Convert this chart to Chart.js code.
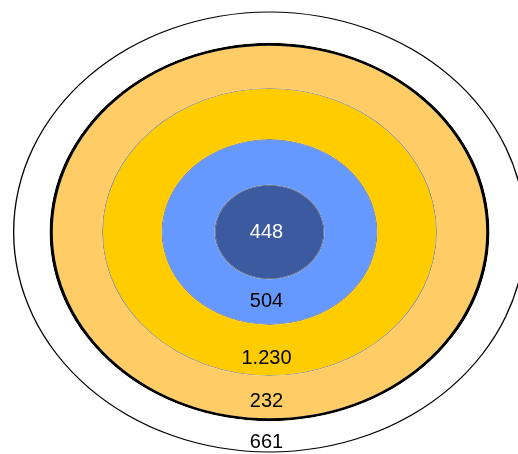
<!DOCTYPE html>
<html>
<head>
<meta charset="utf-8">
<script src="https://cdn.jsdelivr.net/npm/chart.js@4/dist/chart.umd.min.js"></script>
<style>
  html, body { margin: 0; padding: 0; background: #ffffff; overflow: hidden; }
  #wrap { position: relative; width: 518px; height: 454px; }
</style>
</head>
<body>
<div id="wrap"><canvas id="chart" width="518" height="454"></canvas></div>
<script>
// Nested groups, from the outermost ring to the core
const groups = ['Gesamt', 'Stufe 2', 'Stufe 3', 'Stufe 4', 'Kern'];
const values = [661, 232, 1230, 504, 448];

// Styling per ring (outermost first)
const fillColors = ['#FFFFFF', '#FFCC66', '#FFCC00', '#6699FF', '#3B5AA0'];
const textColors = ['#000000', '#000000', '#000000', '#000000', '#FFFFFF'];
const ringWidths = [35.2, 49.2, 58.5, 52, 54];          // ring thickness in px (horizontal)
const edgeWidths = [1.3, 3.3, 1, 1, 1];                   // outline drawn at the outer edge of each ring
const edgeColors = ['#000000', '#000000', 'rgba(70,60,30,0.6)', 'rgba(40,50,80,0.6)', 'rgba(30,40,70,0.7)'];
const labelPos = [0.69, 0.6, 0.665, 0.5, 0];              // label position across the lower part of each ring
const OUTER_RADIUS = 256.5;
const Y_RATIO = 0.86;       // vertical squash that turns the rings into ellipses

const fmt = v => String(v).replace(/\B(?=(\d{3})+(?!\d))/g, '.');

// Each ring is preceded by a thin outline ring
const datasets = [];
values.forEach((v, i) => {
  datasets.push({
    label: groups[i] + ' Rand',
    data: [1],
    backgroundColor: edgeColors[i],
    weight: edgeWidths[i],
    isEdge: true
  });
  datasets.push({
    label: groups[i],
    data: [v],
    backgroundColor: fillColors[i],
    weight: ringWidths[i],
    textColor: textColors[i],
    labelPos: labelPos[i],
    isEdge: false
  });
});

const ellipsePlugin = {
  id: 'ellipse',
  beforeDatasetsDraw(chart) {
    const a = chart.getDatasetMeta(0).data[0];
    const ctx = chart.ctx;
    ctx.save();
    ctx.translate(a.x, a.y);
    ctx.scale(1, Y_RATIO);
    ctx.translate(-a.x, -a.y);
  },
  afterDatasetsDraw(chart) {
    chart.ctx.restore();
  }
};

const labelPlugin = {
  id: 'ringLabels',
  afterDraw(chart) {
    const ctx = chart.ctx;
    ctx.save();
    ctx.font = '20px "Liberation Sans", Arial, sans-serif';
    ctx.textAlign = 'center';
    ctx.textBaseline = 'middle';
    chart.data.datasets.forEach((ds, di) => {
      if (ds.isEdge) return;
      const arc = chart.getDatasetMeta(di).data[0];
      const inner = arc.innerRadius, outer = arc.outerRadius;
      const r = inner > 0.5 ? inner + (outer - inner) * ds.labelPos : 0;
      ctx.fillStyle = ds.textColor;
      ctx.fillText(fmt(ds.data[0]), arc.x - 3, arc.y + r * Y_RATIO);
    });
    ctx.restore();
  }
};

new Chart(document.getElementById('chart'), {
  type: 'doughnut',
  data: { labels: ['Wert'], datasets },
  options: {
    responsive: false,
    maintainAspectRatio: false,
    animation: false,
    events: [],
    cutout: 0,
    radius: OUTER_RADIUS,
    clip: false,
    borderWidth: 0,
    layout: { padding: { left: 21, right: 0, top: 10, bottom: 0 } },
    elements: { arc: { borderWidth: 0, hoverOffset: 0, offset: 0 } },
    plugins: {
      legend: { display: false },
      title: { display: false },
      tooltip: { enabled: false }
    }
  },
  plugins: [ellipsePlugin, labelPlugin]
});
</script>
</body>
</html>
